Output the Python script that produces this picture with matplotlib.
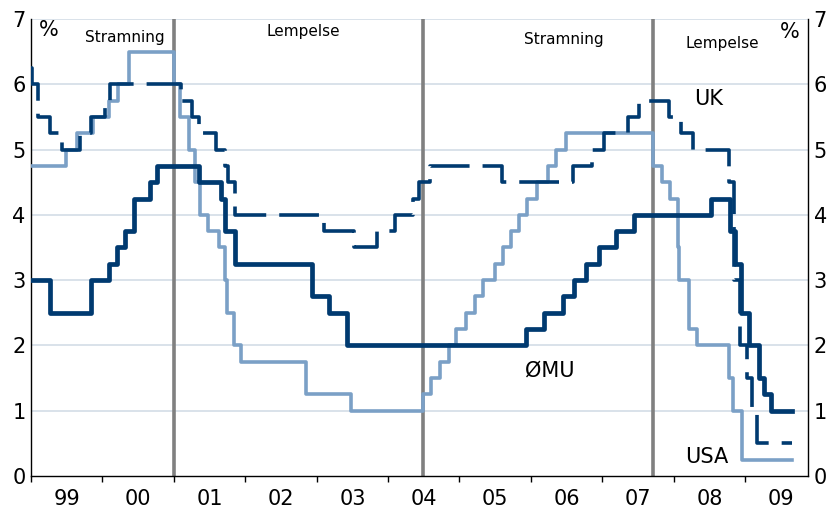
import numpy as np
import pandas as pd
import matplotlib
matplotlib.use('Agg')
import matplotlib.pyplot as plt
from matplotlib.ticker import FixedLocator, NullFormatter

# Styringsrenter, dato for renteændring og ny rente
usa_dates = ['1999-01-01', '1999-06-30', '1999-08-24', '1999-11-16', '2000-02-02', '2000-03-21',
             '2000-05-16', '2001-01-03', '2001-01-31', '2001-03-20', '2001-04-18', '2001-05-15',
             '2001-06-27', '2001-08-21', '2001-09-17', '2001-10-02', '2001-11-06', '2001-12-11',
             '2002-11-06', '2003-06-25', '2004-06-30', '2004-08-10', '2004-09-21', '2004-11-10',
             '2004-12-14', '2005-02-02', '2005-03-22', '2005-05-03', '2005-06-30', '2005-08-09',
             '2005-09-20', '2005-11-01', '2005-12-13', '2006-01-31', '2006-03-28', '2006-05-10',
             '2006-06-29', '2007-09-18', '2007-10-31', '2007-12-11', '2008-01-22', '2008-01-30',
             '2008-03-18', '2008-04-30', '2008-10-08', '2008-10-29', '2008-12-16', '2009-08-31']
usa_rates = [4.75, 5.0, 5.25, 5.5, 5.75, 6.0,
             6.5, 6.0, 5.5, 5.0, 4.5, 4.0,
             3.75, 3.5, 3.0, 2.5, 2.0, 1.75,
             1.25, 1.0, 1.25, 1.5, 1.75, 2.0,
             2.25, 2.5, 2.75, 3.0, 3.25, 3.5,
             3.75, 4.0, 4.25, 4.5, 4.75, 5.0,
             5.25, 4.75, 4.5, 4.25, 3.5, 3.0,
             2.25, 2.0, 1.5, 1.0, 0.25, 0.25]

emu_dates = ['1999-01-01', '1999-04-09', '1999-11-05', '2000-02-04', '2000-03-17', '2000-04-28',
             '2000-06-09', '2000-09-01', '2000-10-06', '2001-05-11', '2001-08-31', '2001-09-18',
             '2001-11-09', '2002-12-06', '2003-03-07', '2003-06-06', '2005-12-06', '2006-03-08',
             '2006-06-15', '2006-08-09', '2006-10-11', '2006-12-13', '2007-03-14', '2007-06-13',
             '2008-07-09', '2008-10-15', '2008-11-12', '2008-12-10', '2009-01-21', '2009-03-11',
             '2009-04-08', '2009-05-13', '2009-08-31']
emu_rates = [3.0, 2.5, 3.0, 3.25, 3.5, 3.75,
             4.25, 4.5, 4.75, 4.5, 4.25, 3.75,
             3.25, 2.75, 2.5, 2.0, 2.25, 2.5,
             2.75, 3.0, 3.25, 3.5, 3.75, 4.0,
             4.25, 3.75, 3.25, 2.5, 2.0, 1.5,
             1.25, 1.0, 1.0]

uk_dates = ['1999-01-01', '1999-01-07', '1999-02-04', '1999-04-08', '1999-06-10', '1999-09-08',
            '1999-11-04', '2000-01-13', '2000-02-10', '2001-02-08', '2001-04-05', '2001-05-10',
            '2001-08-02', '2001-09-18', '2001-10-04', '2001-11-08', '2003-02-06', '2003-07-10',
            '2003-11-06', '2004-02-05', '2004-05-06', '2004-06-10', '2004-08-05', '2005-08-04',
            '2006-08-03', '2006-11-09', '2007-01-11', '2007-05-10', '2007-07-05', '2007-12-06',
            '2008-02-07', '2008-04-10', '2008-10-08', '2008-11-06', '2008-12-04', '2009-01-08',
            '2009-02-05', '2009-03-05', '2009-08-31']
uk_rates = [6.25, 6.0, 5.5, 5.25, 5.0, 5.25,
            5.5, 5.75, 6.0, 5.75, 5.5, 5.25,
            5.0, 4.75, 4.5, 4.0, 3.75, 3.5,
            3.75, 4.0, 4.25, 4.5, 4.75, 4.5,
            4.75, 5.0, 5.25, 5.5, 5.75, 5.5,
            5.25, 5.0, 4.5, 3.0, 2.0, 1.5,
            1.0, 0.5, 0.5]

# skift i pengepolitikken
regime_shifts = ['2001-01-03', '2004-06-30', '2007-09-18']
regime_labels = ['Stramning', 'Lempelse', 'Stramning', 'Lempelse']
year_labels = ['99', '00', '01', '02', '03', '04', '05', '06', '07', '08', '09']


def frac_year(dates):
    d = pd.to_datetime(pd.Series(dates))
    days = np.where(d.dt.is_leap_year, 366, 365)
    return (d.dt.year + (d.dt.dayofyear - 1) / days).to_numpy()


dark = '#003a70'
light = '#7ba0c6'

fig = plt.figure(figsize=(8.34, 5.13), dpi=100)
ax = fig.add_axes([0.0372, 0.0721, 0.9316, 0.8909])

ax.set_xlim(1999.0, 2009.88)
ax.set_ylim(0, 7)

for y in range(1, 8):
    ax.axhline(y, color='#d9e2ea', lw=1.4, zorder=0)

for xv in frac_year(regime_shifts):
    ax.axvline(xv, color='#808080', lw=2.6, zorder=1)

ax.plot(frac_year(usa_dates), usa_rates, drawstyle='steps-post', color=light, lw=2.6, zorder=3)
uk_line, = ax.plot(frac_year(uk_dates), uk_rates, drawstyle='steps-post', color=dark, lw=2.6, zorder=4)
uk_line.set_dashes((11, 3.6))
ax.plot(frac_year(emu_dates), emu_rates, drawstyle='steps-post', color=dark, lw=3.4, zorder=5)

# tekster
fs = 15
ax.text(1999.25, 6.83, '%', fontsize=fs, ha='center', va='center')
ax.text(2009.63, 6.80, '%', fontsize=fs, ha='center', va='center')
ax.text(2000.31, 6.72, regime_labels[0], fontsize=11, ha='center', va='center')
ax.text(2002.81, 6.81, regime_labels[1], fontsize=11, ha='center', va='center')
ax.text(2006.46, 6.69, regime_labels[2], fontsize=11, ha='center', va='center')
ax.text(2008.68, 6.63, regime_labels[3], fontsize=11, ha='center', va='center')
ax.text(2008.49, 5.77, 'UK', fontsize=fs, ha='center', va='center')
ax.text(2006.27, 1.62, 'ØMU', fontsize=fs, ha='center', va='center')
ax.text(2008.46, 0.29, 'USA', fontsize=fs, ha='center', va='center')

# akser
for s in ['top']:
    ax.spines[s].set_visible(False)
for s in ['left', 'right', 'bottom']:
    ax.spines[s].set_color('black')
    ax.spines[s].set_linewidth(1.0)

ax.set_yticks(range(0, 8))
ax.tick_params(axis='y', which='both', length=0, labelsize=15, pad=4,
               labelleft=True, labelright=True)

years = np.arange(1999, 2010)
ax.xaxis.set_major_locator(FixedLocator(years))
ax.xaxis.set_major_formatter(NullFormatter())
ax.xaxis.set_minor_locator(FixedLocator(years + 0.5))
ax.set_xticklabels(year_labels, minor=True)
ax.tick_params(axis='x', which='major', length=4, width=1, direction='out')
ax.tick_params(axis='x', which='minor', length=0, labelsize=15, pad=9)

fig.savefig('out.png', dpi=100)
